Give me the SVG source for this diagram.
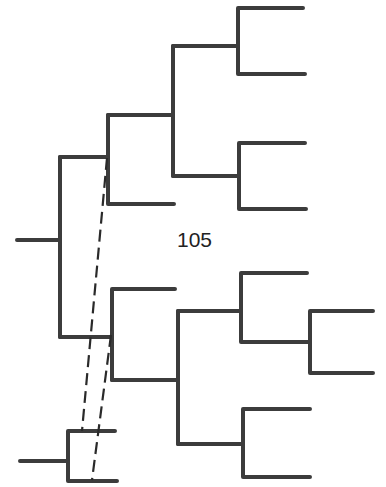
<svg xmlns="http://www.w3.org/2000/svg" width="386" height="487" viewBox="0 0 386 487">
<style>
.t{fill:none;stroke:#3c3c3c;stroke-width:4;stroke-linecap:round;stroke-linejoin:miter}
.d{fill:none;stroke:#2a2a2a;stroke-width:2.2;stroke-dasharray:12 6}
text{font-family:"Liberation Sans",Arial,sans-serif;font-size:21px;fill:#222}
</style>
<rect width="386" height="487" fill="#fff"/>
<g id="tree-main">
<path class="t" d="M17 240H60M60 157V337"/>
<path class="t" d="M60 157H108M108 115V204M108 204H174"/>
<path class="t" d="M108 115H173M173 46V176"/>
<path class="t" d="M173 46H238M238 8V74M238 8H303M238 74H305"/>
<path class="t" d="M173 176H239M239 143V209M239 143H305M239 209H306"/>
<path class="t" d="M60 337H112M112 289V380M112 289H175"/>
<path class="t" d="M112 380H178M178 311V444"/>
<path class="t" d="M178 311H241M241 273V342M241 273H307M241 342H310"/>
<path class="t" d="M310 311V373M310 311H373M310 373H373"/>
<path class="t" d="M178 444H243M243 409V477M243 409H310M243 477H310"/>
</g>
<g id="tree-small">
<path class="t" d="M20 461H68M68 431V481M68 431H115M68 481H117"/>
</g>
<g id="connectors">
<path class="d" d="M107 158L82 431"/>
<path class="d" d="M111 335L92 480"/>
</g>
<g id="label">
<text x="177" y="247">105</text>
</g>
</svg>
